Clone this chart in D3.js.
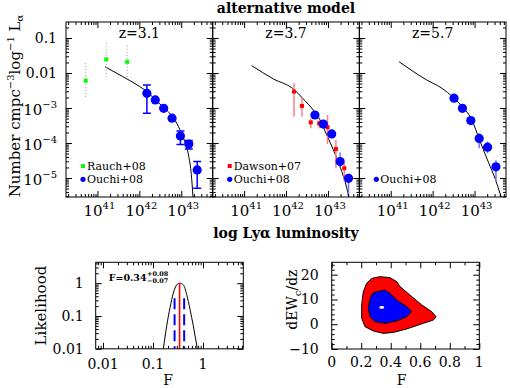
<!DOCTYPE html>
<html>
<head>
<meta charset="utf-8">
<script src="https://cdn.jsdelivr.net/npm/d3@7"></script>
<style>
  body { margin: 0; background: #fff; }
  svg { display: block; font-family: "DejaVu Serif", serif; }
</style>
</head>
<body>
<svg id="chart" width="510" height="388"></svg>
<script>
// ---- data (log10 values) ----
const zLabels = ['z=3.1', 'z=3.7', 'z=5.7']

// z = 3.1
const rauchLogL = [40.72, 41.21, 41.71]
const rauchLogPhi = [-2.22, -1.61, -1.68]
const rauchLo = [-2.69, -2.11, -2.11]
const rauchHi = [-1.71, -1.11, -1.17]

const ouchi31LogL = [42.18, 42.38, 42.58, 42.78, 42.98, 43.18, 43.38]
const ouchi31LogPhi = [-2.58, -2.77, -3.01, -3.29, -3.80, -4.03, -4.77]
const ouchi31Lo = [-3.15, -2.84, -3.07, -3.35, -4.04, -4.17, -5.29]
const ouchi31Hi = [-2.34, -2.70, -2.95, -3.23, -3.66, -3.93, -4.53]

const model31LogL = [41.18, 41.6, 42.0, 42.18, 42.41, 42.65, 42.89, 42.97, 43.08, 43.18, 43.24, 43.28]
const model31LogPhi = [-1.82, -2.1, -2.38, -2.53, -2.80, -3.06, -3.43, -3.63, -3.95, -4.39, -4.9, -5.55]

// z = 3.7
const dawsonLogL = [42.19, 42.38, 42.59, 42.79, 42.99, 43.19, 43.39]
const dawsonLogPhi = [-2.53, -2.94, -3.41, -3.44, -3.55, -4.17, -4.72]
const dawsonLo = [-3.25, -3.25, -3.58, -3.58, -4.03, -4.72, -5.11]
const dawsonHi = [-2.29, -2.72, -3.29, -3.34, -3.20, -3.91, -4.58]

const ouchi37LogL = [42.69, 42.89, 43.09, 43.29, 43.49]
const ouchi37LogPhi = [-3.20, -3.46, -3.74, -4.53, -5.01]
const ouchi37Lo = [-3.26, -3.52, -3.80, -4.70, -5.53]
const ouchi37Hi = [-3.14, -3.40, -3.68, -4.27, -4.87]

const model37LogL = [41.18, 41.70, 42.19, 42.41, 42.65, 42.81, 42.97, 43.13, 43.29, 43.45, 43.50]
const model37LogPhi = [-1.79, -2.17, -2.47, -2.74, -3.06, -3.34, -3.77, -4.2, -4.68, -5.29, -5.55]

// z = 5.7
const ouchi57LogL = [42.51, 42.71, 42.91, 43.11, 43.31, 43.51]
const ouchi57LogPhi = [-2.72, -3.01, -3.36, -3.87, -4.12, -4.68]
const ouchi57Lo = [-2.82, -3.08, -3.42, -4.15, -4.29, -5.11]
const ouchi57Hi = [-2.62, -2.94, -3.30, -3.72, -3.96, -4.49]

const model57LogL = [41.20, 41.86, 42.2, 42.51, 42.72, 42.92, 43.13, 43.33, 43.50, 43.61, 43.64]
const model57LogPhi = [-1.68, -2.2, -2.42, -2.72, -2.98, -3.30, -3.95, -4.55, -5.05, -5.45, -5.55]

// likelihood of F
const likeF = [0.161, 0.188, 0.219, 0.255, 0.298, 0.34, 0.404, 0.472, 0.55, 0.64, 0.77]
const likeL = [0.01, 0.05, 0.18, 0.5, 0.89, 1.0, 0.89, 0.45, 0.16, 0.05, 0.01]
const bestF = 0.34
const bestFLo = 0.27
const bestFHi = 0.42

// confidence contours, F vs dEW_c/dz
const outerF = [0.271, 0.327, 0.395, 0.44, 0.463, 0.53, 0.61, 0.677, 0.707, 0.689, 0.62, 0.508, 0.417, 0.35, 0.282, 0.226, 0.203, 0.203, 0.214, 0.237]
const outerEW = [18.5, 19.2, 18.8, 17.2, 15.2, 11.8, 7.8, 5.1, 3.0, 1.7, 0.35, -1.9, -3.3, -3.7, -2.7, -1.0, 2.4, 7.8, 13.1, 16.5]
const innerF = [0.305, 0.361, 0.395, 0.44, 0.508, 0.542, 0.508, 0.44, 0.361, 0.293, 0.26, 0.248, 0.26, 0.278]
const innerEW = [13.1, 13.8, 12.4, 9.8, 7.1, 5.1, 3.1, 1.3, 0.4, 1.0, 3.1, 6.4, 10.5, 12.5]
const bestEW = 6.8
const bestFc = 0.339

const zip = (a, b) => a.map((v, i) => [v, b[i]])
const pts = (l, p, lo, hi) => l.map((v, i) => ({ l: v, p: p[i], lo: lo ? lo[i] : null, hi: hi ? hi[i] : null }))

const panels = [
  {
    z: zLabels[0],
    model: zip(model31LogL, model31LogPhi),
    sets: [
      { kind: 'rauch', data: pts(rauchLogL, rauchLogPhi, rauchLo, rauchHi) },
      { kind: 'ouchiCap', data: pts(ouchi31LogL, ouchi31LogPhi, ouchi31Lo, ouchi31Hi) }
    ],
    legend: [['rauch', 'Rauch+08'], ['ouchi', 'Ouchi+08']]
  },
  {
    z: zLabels[1],
    model: zip(model37LogL, model37LogPhi),
    sets: [
      { kind: 'dawson', data: pts(dawsonLogL, dawsonLogPhi, dawsonLo, dawsonHi) },
      { kind: 'ouchi', data: pts(ouchi37LogL, ouchi37LogPhi, ouchi37Lo, ouchi37Hi) }
    ],
    legend: [['dawson', 'Dawson+07'], ['ouchi', 'Ouchi+08']]
  },
  {
    z: zLabels[2],
    model: zip(model57LogL, model57LogPhi),
    sets: [
      { kind: 'ouchi', data: pts(ouchi57LogL, ouchi57LogPhi, ouchi57Lo, ouchi57Hi) }
    ],
    legend: [['ouchi', 'Ouchi+08']]
  }
]

const svg = d3.select('#chart')

function logTicks (e0, e1) {
  const majors = []
  const minors = []
  for (let e = Math.floor(e0); e <= Math.ceil(e1); e++) {
    for (let k = 1; k <= 9; k++) {
      const v = k * Math.pow(10, e)
      const lv = Math.log10(v)
      if (lv < e0 - 1e-9 || lv > e1 + 1e-9) continue
      if (k === 1) majors.push(v)
      else minors.push(v)
    }
  }
  return { majors, minors }
}

function addTicks (g, x, y, w, h, xt, yt) {
  const sides = [
    [d3.axisBottom(x), `translate(0,${h})`, xt],
    [d3.axisTop(x), 'translate(0,0)', xt],
    [d3.axisLeft(y), 'translate(0,0)', yt],
    [d3.axisRight(y), `translate(${w},0)`, yt]
  ]
  sides.forEach(([ax, tr, t]) => {
    [[t.majors, 6], [t.minors, 3]].forEach(([vals, len]) => {
      g.append('g')
        .attr('transform', tr)
        .call(ax.tickValues(vals).tickSize(-len).tickFormat(''))
        .call(a => a.select('.domain').remove())
    })
  })
  g.append('rect')
    .attr('width', w).attr('height', h)
    .attr('fill', 'none').attr('stroke', '#000').attr('stroke-width', 1)
}

function powLabel (g, x, y, exp, anchor) {
  const t = g.append('text')
    .attr('x', x).attr('y', y)
    .attr('text-anchor', anchor)
    .attr('font-size', 15)
  t.append('tspan').text('10')
  t.append('tspan').attr('dy', -7).attr('font-size', 10).text(exp)
}

// ---- top row ----
const topY = 22
const ph = 175
const pw = 146.7
const panelLeft = [66, 212.7, 359.3]
const xDom = [40.25, 43.75]
const yDom = [-5.543, -0.543]
const xTicks = logTicks(xDom[0], xDom[1])
const yTicks = logTicks(yDom[0], yDom[1])

panels.forEach((p, i) => {
  const g = svg.append('g').attr('transform', `translate(${panelLeft[i]},${topY})`)
  const x = d3.scaleLog().domain(xDom.map(v => Math.pow(10, v))).range([0, pw])
  const y = d3.scaleLog().domain(yDom.map(v => Math.pow(10, v))).range([ph, 0])
  const X = l => x(Math.pow(10, l))
  const Y = l => y(Math.pow(10, l))

  const clipId = 'clip' + i
  g.append('clipPath').attr('id', clipId)
    .append('rect').attr('width', pw).attr('height', ph)
  const body = g.append('g').attr('clip-path', `url(#${clipId})`)

  body.append('path')
    .datum(p.model)
    .attr('fill', 'none')
    .attr('stroke', '#000')
    .attr('stroke-width', 1)
    .attr('d', d3.line().x(d => X(d[0])).y(d => Y(d[1])).curve(d3.curveMonotoneX))

  p.sets.forEach(s => {
    const bars = body.append('g')
    bars.selectAll('line.err')
      .data(s.data)
      .enter().append('line')
      .attr('class', 'err')
      .attr('x1', d => X(d.l)).attr('x2', d => X(d.l))
      .attr('y1', d => Y(d.lo)).attr('y2', d => Y(d.hi))
      .attr('stroke', s.kind === 'rauch' ? '#999' : s.kind === 'dawson' ? '#ff8080' : s.kind === 'ouchi' ? '#7070ff' : '#0000ff')
      .attr('stroke-width', s.kind === 'rauch' ? 1 : 1.5)
      .attr('stroke-dasharray', s.kind === 'rauch' ? '1,2' : null)

    if (s.kind === 'ouchiCap') {
      ['lo', 'hi'].forEach(k => {
        bars.selectAll('line.cap' + k)
          .data(s.data.filter(d => Math.abs(d[k] - d.p) > 0.08))
          .enter().append('line')
          .attr('x1', d => X(d.l) - 4).attr('x2', d => X(d.l) + 4)
          .attr('y1', d => Y(d[k])).attr('y2', d => Y(d[k]))
          .attr('stroke', '#0000ff').attr('stroke-width', 1.5)
      })
    }

    if (s.kind === 'ouchi' || s.kind === 'ouchiCap') {
      body.selectAll(null)
        .data(s.data)
        .enter().append('circle')
        .attr('cx', d => X(d.l)).attr('cy', d => Y(d.p))
        .attr('r', 4.6)
        .attr('fill', '#0000ff')
    } else {
      const sz = 4
      body.selectAll(null)
        .data(s.data)
        .enter().append('rect')
        .attr('x', d => X(d.l) - sz / 2).attr('y', d => Y(d.p) - sz / 2)
        .attr('width', sz).attr('height', sz)
        .attr('fill', s.kind === 'rauch' ? '#00ff00' : '#ff0000')
    }
  })

  addTicks(g, x, y, pw, ph, xTicks, yTicks)

  g.append('text')
    .attr('x', pw / 2).attr('y', 16)
    .attr('text-anchor', 'middle')
    .attr('font-size', 14)
    .text(p.z)

  // legend: rows sit at the bottom left, the last row is always the Ouchi row
  const nRows = p.legend.length
  p.legend.forEach(([kind, label], j) => {
    const ly = 157.3 - (nRows - 1 - j) * 13.3
    const lx = 17
    if (kind === 'ouchi') {
      g.append('circle').attr('cx', lx).attr('cy', ly).attr('r', 2.6).attr('fill', '#0000ff')
    } else {
      g.append('rect').attr('x', lx - 2).attr('y', ly - 2).attr('width', 4).attr('height', 4)
        .attr('fill', kind === 'rauch' ? '#00ff00' : '#ff0000')
    }
    g.append('text')
      .attr('x', lx + 4).attr('y', ly + 4)
      .attr('font-size', 11)
      .text(label)
  })

  // x tick labels
  xTicks.majors.forEach(v => {
    powLabel(g, x(v) + 2, ph + 19, String(Math.round(Math.log10(v))), 'middle')
  })

  if (i === 0) {
    yTicks.majors.forEach(v => {
      const e = Math.round(Math.log10(v))
      if (e >= -2) {
        g.append('text')
          .attr('x', -9).attr('y', y(v) + 5)
          .attr('text-anchor', 'end')
          .attr('font-size', 14)
          .text(e === -1 ? '0.1' : '0.01')
      } else {
        powLabel(g, -9, y(v) + 7, '\u2212' + (-e), 'end')
      }
    })
  }
})

svg.append('text')
  .attr('x', 286).attr('y', 13)
  .attr('text-anchor', 'middle')
  .attr('font-size', 14).attr('font-weight', 'bold')
  .text('alternative model')

svg.append('text')
  .attr('x', 286).attr('y', 238)
  .attr('text-anchor', 'middle')
  .attr('font-size', 14).attr('font-weight', 'bold')
  .text('log Ly\u03b1 luminosity')

const yl = svg.append('text')
  .attr('transform', 'translate(20,106) rotate(-90)')
  .attr('text-anchor', 'middle')
  .attr('font-size', 15)
yl.append('tspan').text('Number cmpc')
yl.append('tspan').attr('dy', -6).attr('font-size', 10).text('\u22123')
yl.append('tspan').attr('dy', 6).text('log')
yl.append('tspan').attr('dy', -6).attr('font-size', 10).text('\u22121')
yl.append('tspan').attr('dy', 6).text(' L')
yl.append('tspan').attr('dy', 3).attr('font-size', 10).text('\u03b1')

// ---- likelihood panel ----
{
  const w = 147.6
  const h = 86.5
  const g = svg.append('g').attr('transform', 'translate(95.7,262.3)')
  const xe = [-2.146, 0.806]
  const ye = [-2, 0.636]
  const x = d3.scaleLog().domain(xe.map(v => Math.pow(10, v))).range([0, w])
  const y = d3.scaleLog().domain(ye.map(v => Math.pow(10, v))).range([h, 0])

  g.append('clipPath').attr('id', 'clipL').append('rect').attr('width', w).attr('height', h)
  const body = g.append('g').attr('clip-path', 'url(#clipL)')

  body.append('path')
    .datum(zip(likeF, likeL))
    .attr('fill', 'none').attr('stroke', '#000').attr('stroke-width', 1)
    .attr('d', d3.line().x(d => x(d[0])).y(d => y(d[1])).curve(d3.curveMonotoneX))

  ;[bestFLo, bestFHi].forEach(f => {
    body.append('line')
      .attr('x1', x(f)).attr('x2', x(f))
      .attr('y1', y(0.35)).attr('y2', y(0.01))
      .attr('stroke', '#0000ff').attr('stroke-width', 2)
      .attr('stroke-dasharray', '11,5')
  })
  body.append('line')
    .attr('x1', x(bestF)).attr('x2', x(bestF))
    .attr('y1', y(1)).attr('y2', y(0.01))
    .attr('stroke', '#ff0000').attr('stroke-width', 1.6)

  addTicks(g, x, y, w, h, logTicks(xe[0], xe[1]), logTicks(ye[0], ye[1]))

  ;[0.01, 0.1, 1].forEach(v => {
    g.append('text').attr('x', x(v)).attr('y', h + 20)
      .attr('text-anchor', 'middle').attr('font-size', 14)
      .text(v === 1 ? '1' : String(v))
    g.append('text').attr('x', -12).attr('y', y(v) + 5)
      .attr('text-anchor', 'end').attr('font-size', 14)
      .text(v === 1 ? '1' : String(v))
  })

  // F = 0.34 (+0.08, -0.07), stacked super/subscript
  const ann = g.append('text').attr('x', 13).attr('y', 18.5)
    .attr('font-size', 9.5).attr('font-weight', 'bold')
    .text('F=' + bestF.toFixed(2))
  const annEnd = 13 + ann.node().getComputedTextLength() + 0.5
  g.append('text').attr('x', annEnd).attr('y', 13.8)
    .attr('font-size', 6.5).attr('font-weight', 'bold')
    .text('+' + (bestFHi - bestF).toFixed(2))
  g.append('text').attr('x', annEnd).attr('y', 20.8)
    .attr('font-size', 6.5).attr('font-weight', 'bold')
    .text('\u2212' + (bestF - bestFLo).toFixed(2))

  g.append('text').attr('x', 72.5).attr('y', 123)
    .attr('text-anchor', 'middle').attr('font-size', 14).text('F')
  g.append('text').attr('transform', `translate(-50,${h / 2}) rotate(-90)`)
    .attr('text-anchor', 'middle').attr('font-size', 15).text('Likelihood')
}

// ---- contour panel ----
{
  const w = 147.6
  const h = 86.7
  const g = svg.append('g').attr('transform', 'translate(331.7,262.3)')
  const x = d3.scaleLinear().domain([0, 1]).range([0, w])
  const y = d3.scaleLinear().domain([-10, 25]).range([h, 0])

  const area = d3.line().x(d => x(d[0])).y(d => y(d[1])).curve(d3.curveLinearClosed)
  g.append('path').datum(zip(outerF, outerEW))
    .attr('fill', '#ff0000').attr('stroke', '#000').attr('stroke-width', 1).attr('d', area)
  g.append('path').datum(zip(innerF, innerEW))
    .attr('fill', '#0000ff').attr('stroke', '#000').attr('stroke-width', 1).attr('d', area)
  g.append('ellipse').attr('cx', x(bestFc)).attr('cy', y(bestEW))
    .attr('rx', 2.5).attr('ry', 1.3).attr('fill', '#fff')

  const xt = { majors: d3.range(0, 1.01, 0.2), minors: d3.range(0.1, 1, 0.2) }
  const yt = { majors: d3.range(-10, 25, 10), minors: d3.range(-8, 25, 2).filter(v => v % 10 !== 0) }
  addTicks(g, x, y, w, h, xt, yt)

  xt.majors.forEach(v => {
    g.append('text').attr('x', x(v)).attr('y', h + 18)
      .attr('text-anchor', 'middle').attr('font-size', 14)
      .text(v === 0 ? '0' : Math.abs(v - 1) < 1e-9 ? '1' : v.toFixed(1))
  })
  yt.majors.forEach(v => {
    g.append('text').attr('x', -13).attr('y', y(v) + 5)
      .attr('text-anchor', 'end').attr('font-size', 14)
      .text(v < 0 ? '\u2212' + (-v) : String(v))
  })

  g.append('text').attr('x', 70).attr('y', 123)
    .attr('text-anchor', 'middle').attr('font-size', 14).text('F')
  const lab = g.append('text').attr('transform', `translate(-35,${h / 2 - 6}) rotate(-90)`)
    .attr('text-anchor', 'middle').attr('font-size', 14)
  lab.append('tspan').text('dEW')
  lab.append('tspan').attr('dy', 4).attr('font-size', 10).text('c')
  lab.append('tspan').attr('dy', -4).text('/dz')
}
</script>
</body>
</html>
